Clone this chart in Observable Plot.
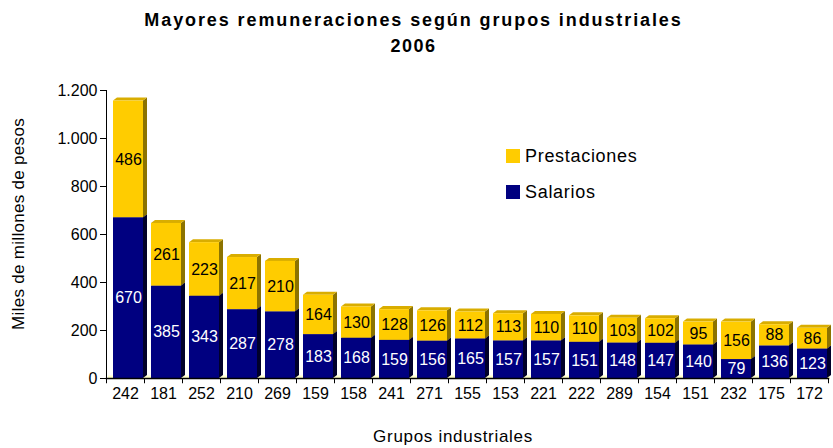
<!DOCTYPE html>
<html><head><meta charset="utf-8">
<script src="https://cdn.jsdelivr.net/npm/d3@7"></script>
<script src="https://cdn.jsdelivr.net/npm/@observablehq/plot@0.6"></script>
<style>
body{margin:0;background:#fff;font-family:"Liberation Sans",Arial,sans-serif;}
#wrap{position:relative;width:833px;height:448px;overflow:hidden;}
.abs{position:absolute;white-space:nowrap;color:#000;}
</style></head>
<body><div id="wrap"></div>
<script>
const grupos = ["242","181","252","210","269","159","158","241","271","155","153","221","222","289","154","151","232","175","172"];
const salarios = [670,385,343,287,278,183,168,159,156,165,157,157,151,148,147,140,79,136,123];
const prestaciones = [486,261,223,217,210,164,130,128,126,112,113,110,110,103,102,95,156,88,86];
const yTicks = [0,200,400,600,800,1000,1200];

const rows = grupos.map((g,i)=>({g, s: salarios[i], p: prestaciones[i]}));
const DX = 3, DD = 4, DU = 3;
const fmt = d => d3.format(",")(d).replace(",", ".");

function faces(y1, y2, sideFill, topFill) {
  return Plot.barY(rows, {x: "g", y1, y2, render(index, scales, values, dims) {
    const bw = scales.x.bandwidth ? scales.x.bandwidth() : (dims.width - dims.marginLeft - dims.marginRight) / 19 * 0.8;
    const g = d3.create("svg:g");
    for (const i of index) {
      const x0 = values.x[i] + DX, x1 = x0 + bw;
      const top = Math.min(values.y1[i], values.y2[i]), bot = Math.max(values.y1[i], values.y2[i]);
      g.append("path").attr("d", `M${x1},${bot}L${x1+DD},${bot-DU}L${x1+DD},${top-DU}L${x1},${top}Z`).attr("fill", sideFill);
      g.append("path").attr("d", `M${x0},${top}L${x0+DD},${top-DU}L${x1+DD},${top-DU}L${x1},${top}Z`).attr("fill", topFill);
    }
    return g.node();
  }});
}

const chart = Plot.plot({
  width: 833, height: 448,
  marginTop: 90, marginBottom: 70, marginLeft: 106, marginRight: 5,
  style: {fontFamily: '"Liberation Sans", Arial, sans-serif', fontSize: "16px", color: "#000", background: "transparent"},
  x: {domain: grupos, paddingInner: 0.2, paddingOuter: 0.1, label: null},
  y: {domain: [0, 1200], label: null},
  marks: [
    Plot.ruleY([0], {dy: -1.5, dx: 2, stroke: "#ffffcc", strokeWidth: 3}),
    faces(0, "s", "#00002a", "#000060"),
    Plot.barY(rows, {x: "g", y1: 0, y2: "s", fill: "#000080", dx: DX}),
    faces("s", d => d.s + d.p, "#8c7300", "#d9ad00"),
    Plot.barY(rows, {x: "g", y1: "s", y2: d => d.s + d.p, fill: "#ffcc00", dx: DX}),
    Plot.text(rows, {x: "g", y: d => d.s / 2, text: d => String(d.s), fill: "#fff", dx: DX, fontSize: 16}),
    Plot.text(rows, {x: "g", y: d => d.s + d.p / 2, text: d => String(d.p), fill: "#000", dx: DX, fontSize: 16}),
    Plot.axisY({ticks: yTicks, tickFormat: fmt, tickSize: 6, tickPadding: 3, label: null, fontSize: 16}),
    Plot.axisX({tickSize: 0, tickPadding: 9, label: null, fontSize: 16}),
    Plot.ruleX(grupos, {x: d => d, dx: -19, y1: 0, y2: -22, stroke: "#000"}),
    Plot.ruleX([grupos[grupos.length-1]], {x: d => d, dx: 19, y1: 0, y2: -22, stroke: "#000"}),
    Plot.frame({anchor: "left", stroke: "#000"}),
    Plot.frame({anchor: "bottom", stroke: "#000", strokeWidth: 1.5})
  ]
});
const wrap = document.getElementById("wrap");
chart.style.position = "absolute"; chart.style.left = "0"; chart.style.top = "0";
wrap.appendChild(chart);

function addText(txt, css) {
  const d = document.createElement("div");
  d.className = "abs"; d.textContent = txt;
  Object.assign(d.style, css);
  wrap.appendChild(d);
  return d;
}
addText("Mayores remuneraciones según grupos industriales", {left: "0", width: "833px", textAlign: "center", marginLeft: "-3px", top: "10px", fontSize: "18px", lineHeight: "20px", letterSpacing: "1.9px", fontWeight: "bold"});
addText("2006", {left: "0", width: "833px", textAlign: "center", marginLeft: "-3px", top: "36px", fontSize: "18px", lineHeight: "20px", letterSpacing: "1.5px", fontWeight: "bold"});
addText("Miles de millones de pesos", {left: "19px", top: "224px", fontSize: "17px", letterSpacing: "0.3px", transform: "translate(-50%,-50%) rotate(-90deg)"});
addText("Grupos industriales", {left: "453px", top: "437px", fontSize: "17px", letterSpacing: "0.7px", transform: "translate(-50%,-50%)"});
function legend(label, color, y) {
  const s = document.createElement("div");
  Object.assign(s.style, {position: "absolute", left: "506px", top: (y - 7) + "px", width: "14px", height: "14px", background: color});
  wrap.appendChild(s);
  addText(label, {left: "525px", top: (y - 11) + "px", fontSize: "18px", lineHeight: "22px", letterSpacing: "0.7px"});
}
legend("Prestaciones", "#ffcc00", 156);
legend("Salarios", "#000080", 192);
</script>
</body></html>
